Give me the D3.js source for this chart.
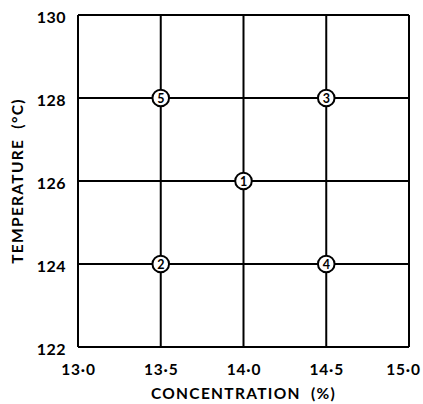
<!DOCTYPE html>
<html>
<head>
<meta charset="utf-8">
<script src="https://cdn.jsdelivr.net/npm/d3@7"></script>
<style>
  body { margin: 0; background: #fff; }
  svg { display: block; }
</style>
</head>
<body>
<div id="chart"></div>
<script>
// Data
const xTicks = [13.0, 13.5, 14.0, 14.5, 15.0]
const yTicks = [122, 124, 126, 128, 130]
const runs = [1, 2, 3, 4, 5]
const runConc = [14.0, 13.5, 14.5, 14.5, 13.5]
const runTemp = [126, 124, 128, 124, 128]

const width = 423, height = 404
const margin = { top: 15, right: 14, bottom: 57, left: 78 }
const font = 'Lato, "Open Sans", sans-serif'

const svg = d3.select('#chart').append('svg')
  .attr('width', width)
  .attr('height', height)

const x = d3.scaleLinear().domain([13, 15]).range([margin.left, width - margin.right])
const y = d3.scaleLinear().domain([122, 130]).range([height - margin.bottom, margin.top])

const fmt = d => d.toFixed(1).replace('.', '·')

// Grid lines
svg.append('g')
  .selectAll('line')
  .data(xTicks)
  .join('line')
  .attr('x1', d => x(d)).attr('x2', d => x(d))
  .attr('y1', y(122)).attr('y2', y(130))
  .attr('stroke', '#000').attr('stroke-width', 2)

svg.append('g')
  .selectAll('line')
  .data(yTicks)
  .join('line')
  .attr('x1', x(13)).attr('x2', x(15))
  .attr('y1', d => y(d)).attr('y2', d => y(d))
  .attr('stroke', '#000').attr('stroke-width', 2)

// Axes (labels only)
const xAxis = svg.append('g')
  .attr('transform', `translate(0,${y(122)})`)
  .call(d3.axisBottom(x).tickValues(xTicks).tickFormat(fmt).tickSize(0).tickPadding(17))
xAxis.select('.domain').remove()
xAxis.selectAll('text')
  .attr('font-family', font).attr('font-size', 15.5).attr('font-weight', 700)
  .attr('letter-spacing', 0.8).attr('fill', '#000')
// last label sits against the right edge
xAxis.selectAll('.tick:last-of-type text').attr('dx', -6)

const yAxis = svg.append('g')
  .attr('transform', `translate(${x(13)},0)`)
  .call(d3.axisLeft(y).tickValues(yTicks).tickFormat(d3.format('d')).tickSize(0).tickPadding(12))
yAxis.select('.domain').remove()
yAxis.selectAll('text')
  .attr('font-family', font).attr('font-size', 16).attr('font-weight', 700)
  .attr('letter-spacing', 0.5).attr('dy', '0.45em').attr('fill', '#000')

// Axis titles
svg.append('text')
  .attr('x', (x(13) + x(15)) / 2)
  .attr('y', 399)
  .attr('text-anchor', 'middle')
  .attr('font-family', font).attr('font-size', 15.5).attr('font-weight', 700)
  .attr('letter-spacing', 1.3)
  .style('white-space', 'pre')
  .text('CONCENTRATION  (%)')

svg.append('text')
  .attr('transform', `translate(23,${(y(122) + y(130)) / 2}) rotate(-90)`)
  .attr('text-anchor', 'middle')
  .attr('font-family', font).attr('font-size', 15.5).attr('font-weight', 700)
  .attr('letter-spacing', 1.3)
  .style('white-space', 'pre')
  .text('TEMPERATURE  (°C)')

// Run points
const pts = svg.append('g')
  .selectAll('g')
  .data(runs.map((r, i) => ({ run: r, c: runConc[i], t: runTemp[i] })))
  .join('g')
  .attr('transform', d => `translate(${x(d.c)},${y(d.t)})`)

pts.append('circle')
  .attr('r', 8.3)
  .attr('fill', '#fff')
  .attr('stroke', '#000')
  .attr('stroke-width', 2)

pts.append('text')
  .attr('text-anchor', 'middle')
  .attr('dy', '0.36em')
  .attr('font-family', font).attr('font-size', 12.5).attr('font-weight', 700)
  .text(d => d.run)
</script>
</body>
</html>
